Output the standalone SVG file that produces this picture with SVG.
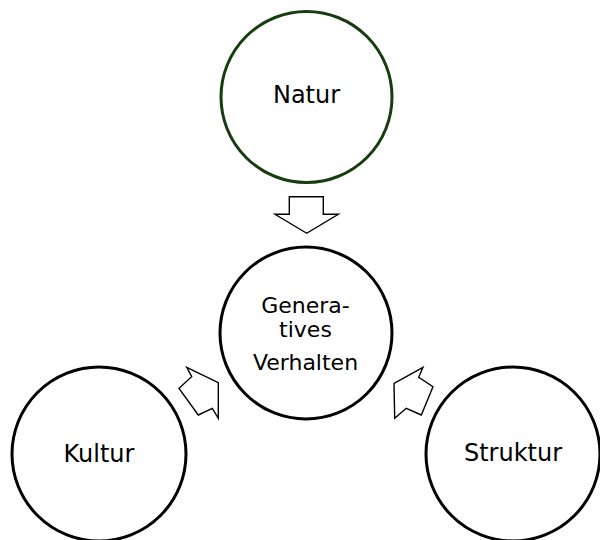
<svg xmlns="http://www.w3.org/2000/svg" width="600" height="540" viewBox="0 0 600 540">
<style>
.c{fill:#fff;stroke:#000;stroke-width:3}
.g{stroke:#163c0f}
.t{font-family:"DejaVu Sans",Verdana,sans-serif;font-size:24px;fill:#000;text-anchor:middle}
.s{font-size:22px}
.a{fill:#fff;stroke:#000;stroke-width:1.4;stroke-linejoin:miter}
</style>
<rect width="600" height="540" fill="#fff"/>
<g id="natur"><circle class="c g" cx="306.5" cy="97" r="85.5"/><text class="t" x="306.5" y="103">Natur</text></g>
<g id="verhalten"><circle class="c" cx="306" cy="333" r="86"/><text class="t s" x="305.5" y="312.5">Genera-</text><text class="t s" x="305.5" y="336.5">tives</text><text class="t s" x="305.5" y="370">Verhalten</text></g>
<g id="kultur"><circle class="c" cx="99" cy="454" r="87"/><text class="t" x="99" y="461.5">Kultur</text></g>
<g id="struktur"><circle class="c" cx="513" cy="454" r="87"/><text class="t" x="513" y="461">Struktur</text></g>
<g id="connectors">
<polygon class="a" points="289.3,196.7 323.3,196.7 323.3,214.3 338.3,214.3 306.7,233.3 275,214.3 289.3,214.3"/>
<polygon class="a" points="186.7,367.3 218.3,382.7 218.3,418.3 212.3,408.3 198.3,415 179,388.3 191.7,376.7"/>
<polygon class="a" points="423,367.3 418.7,377.3 433,386.7 421.3,415 406.3,408.3 394.7,418.3 394,383.3"/>
</g>
</svg>
